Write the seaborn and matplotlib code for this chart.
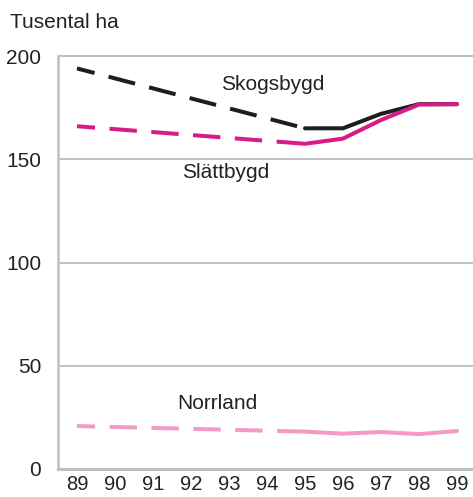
import numpy as np
import pandas as pd
import matplotlib
matplotlib.use("Agg")
import matplotlib.pyplot as plt
import seaborn as sns

years = [1989, 1990, 1991, 1992, 1993, 1994, 1995, 1996, 1997, 1998, 1999]
year_labels = ["89", "90", "91", "92", "93", "94", "95", "96", "97", "98", "99"]
# NaN = no observation (dashed line bridges the gap)
skogsbygd = [194, np.nan, np.nan, np.nan, np.nan, np.nan, 165, 165, 172, 176.7, 176.7]
slattbygd = [166, np.nan, np.nan, np.nan, np.nan, np.nan, 157.5, 160, 169, 176.5, 176.7]
norrland = [20.8, np.nan, np.nan, np.nan, np.nan, np.nan, 18.1, 17.1, 17.9, 16.9, 18.4]
series_names = ["Skogsbygd", "Slättbygd", "Norrland"]
y_ticks = [0, 50, 100, 150, 200]

colors = {"Skogsbygd": "#1e1e1e", "Slättbygd": "#d81b8a", "Norrland": "#f49ac6"}

df = pd.DataFrame({"year": years, "Skogsbygd": skogsbygd,
                   "Slättbygd": slattbygd, "Norrland": norrland})
long = df.melt(id_vars="year", var_name="serie", value_name="value").dropna()

sns.set_style("white")
plt.rcParams["font.family"] = ["Liberation Sans", "DejaVu Sans"]

W, H = 473, 497
fig = plt.figure(figsize=(W / 100, H / 100), dpi=100)
ax = fig.add_axes([58 / W, (H - 469) / H, 418 / W, 423.3 / H])

grid_c = "#c0c0c2"
for v in y_ticks[1:]:
    ax.axhline(v, color=grid_c, lw=1.4, zorder=0)

lw = 2.9
for name in series_names:
    sub = long[long["serie"] == name]
    dashed = sub[sub["year"] <= 1995]
    solid = sub[sub["year"] >= 1995]
    sns.lineplot(data=dashed, x="year", y="value", color=colors[name], lw=lw,
                 ax=ax, linestyle=(2.3, (6.8, 3.6)), dash_capstyle="butt",
                 estimator=None, sort=True)
    sns.lineplot(data=solid, x="year", y="value", color=colors[name], lw=lw,
                 ax=ax, estimator=None, sort=True, solid_joinstyle="miter")

ax.set_xlim(1988.5, 1999.5)
ax.set_ylim(0, 205)
ax.set_xticks(years)
ax.set_xticklabels(year_labels)
ax.set_xticks([y + 0.5 for y in years[:-1]], minor=True)
ax.set_yticks(y_ticks)
ax.set_yticklabels([str(v) for v in y_ticks])
ax.tick_params(axis="x", which="major", length=0, pad=4.5, labelsize=14.5, colors="#222222")
ax.tick_params(axis="x", which="minor", length=8, width=1.8, color=grid_c, direction="out")
ax.tick_params(axis="y", length=0, pad=12, labelsize=15, colors="#222222")
ax.set_xlabel("")
ax.set_ylabel("")

for s in ["top", "right"]:
    ax.spines[s].set_visible(False)
ax.spines["left"].set_color(grid_c)
ax.spines["left"].set_linewidth(1.8)
ax.spines["left"].set_bounds(0, 200)
ax.spines["bottom"].set_color(grid_c)
ax.spines["bottom"].set_linewidth(2.2)

tc = "#222222"
ax.text(1994.15, 186, "Skogsbygd", ha="center", va="center", fontsize=15, color=tc)
ax.text(1992.9, 143.5, "Slättbygd", ha="center", va="center", fontsize=15, color=tc)
ax.text(1992.7, 31.5, "Norrland", ha="center", va="center", fontsize=15, color=tc)

fig.text(10 / W, 1 - 22 / H, "Tusental ha", ha="left", va="center", fontsize=15, color=tc)

fig.savefig("out.png", dpi=100)
